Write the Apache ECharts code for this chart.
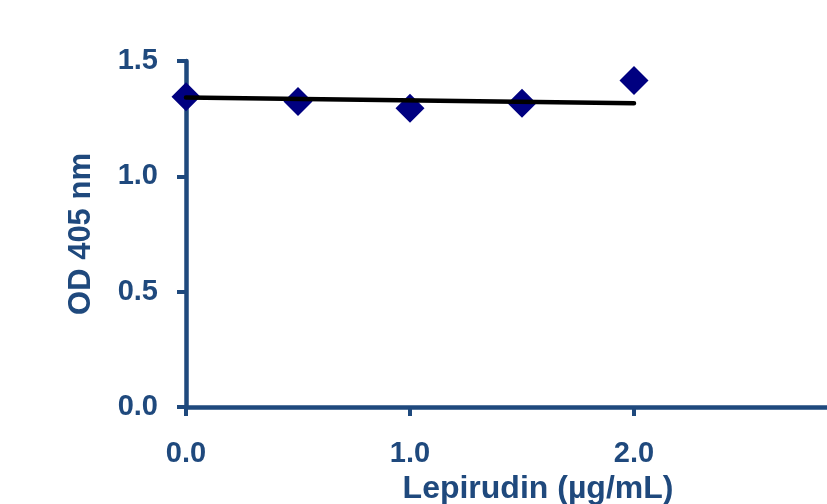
<!DOCTYPE html>
<html>
<head>
<meta charset="utf-8">
<script src="https://cdn.jsdelivr.net/npm/echarts@6/dist/echarts.min.js"></script>
<style>
html,body{margin:0;padding:0;background:#fff;}
#c{width:827px;height:504px;}
</style>
</head>
<body>
<div id="c"></div>
<script>
const concentrations = [0, 0.5, 1.0, 1.5, 2.0];
const odValues = [1.345, 1.324, 1.295, 1.317, 1.415];
const trendX = [0, 2.0];
const trendY = [1.342, 1.317];
const xTitle = 'Lepirudin (µg/mL)';
const yTitle = 'OD 405 nm';

const axisColor = '#1F497D';
const font = "'Liberation Sans', Arial, sans-serif";

const chart = echarts.init(document.getElementById('c'));
chart.setOption({
  animation: false,
  backgroundColor: '#fff',
  grid: { left: 186, top: 61, width: 672, height: 346, containLabel: false, outerBoundsMode: 'none' },
  xAxis: {
    type: 'value', min: 0, max: 3, interval: 1,
    name: xTitle, nameLocation: 'middle', nameGap: 60,
    nameTextStyle: { color: axisColor, fontSize: 32, fontWeight: 'bold', fontFamily: font, padding: [0, 0, 0, 32] },
    axisLine: { show: true, onZero: false, lineStyle: { color: axisColor, width: 4.5 } },
    axisTick: { show: true, length: 9, lineStyle: { color: axisColor, width: 4 } },
    splitLine: { show: false },
    axisLabel: { color: axisColor, fontSize: 29, fontWeight: 'bold', fontFamily: font, margin: 32,
      formatter: v => v.toFixed(1) }
  },
  yAxis: {
    type: 'value', min: 0, max: 1.5, interval: 0.5,
    name: yTitle, nameLocation: 'middle', nameGap: 89, nameRotate: 90,
    nameTextStyle: { color: axisColor, fontSize: 31, fontWeight: 'bold', fontFamily: font },
    axisLine: { show: true, lineStyle: { color: axisColor, width: 4.5 } },
    axisTick: { show: true, length: 9, lineStyle: { color: axisColor, width: 4 } },
    splitLine: { show: false },
    axisLabel: { color: axisColor, fontSize: 29, fontWeight: 'bold', fontFamily: font, margin: 28,
      formatter: v => v.toFixed(1) }
  },
  series: [
    {
      type: 'scatter',
      data: concentrations.map((x, i) => [x, odValues[i]]),
      symbol: 'diamond', symbolSize: 29,
      itemStyle: { color: '#000080', opacity: 1 },
      z: 2
    },
    {
      type: 'line',
      data: trendX.map((x, i) => [x, trendY[i]]),
      showSymbol: false, symbol: 'none',
      lineStyle: { color: '#000', width: 4.5, cap: 'round' },
      z: 3
    }
  ]
});
</script>
</body>
</html>
